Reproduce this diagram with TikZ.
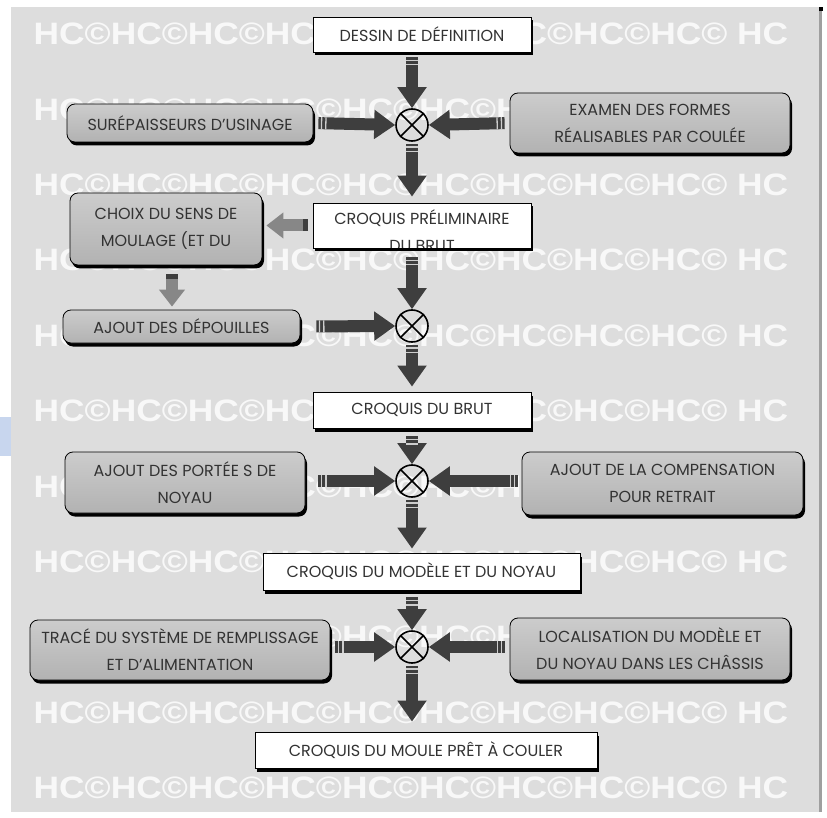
\documentclass[tikz,border=0pt]{standalone}
\usepackage{fontspec}
\setmainfont{Poppins}
\newfontfamily\wmfont{Liberation Sans}
\usetikzlibrary{arrows.meta,shadows}

\definecolor{panelgray}{RGB}{221,221,221}
\definecolor{wmwhite}{RGB}{248,248,248}
\definecolor{boxtop}{RGB}{204,204,204}
\definecolor{boxbot}{RGB}{178,178,178}
\definecolor{arrowdark}{RGB}{62,62,62}
\definecolor{arrowgray}{RGB}{135,135,135}
\definecolor{stripe}{RGB}{205,205,205}
\definecolor{edgeblue}{RGB}{200,214,238}

\tikzset{
  sketch/.style={draw=black, fill=white, line width=0.8pt, inner sep=0pt,
    text=black!80, font=\fontsize{16}{27}\selectfont, align=center,
    drop shadow={shadow xshift=2pt, shadow yshift=-3.5pt, fill=black, opacity=1}},
  stepbox/.style={draw=black, line width=0.8pt, rounded corners=8pt, inner sep=0pt,
    top color=boxtop, bottom color=boxbot,
    text=black!80, font=\fontsize{16}{27}\selectfont, align=center,
    drop shadow={shadow xshift=2pt, shadow yshift=-3.5pt, fill=black, opacity=1}},
  joint/.style={circle, draw=black, line width=1.6pt, minimum size=32pt, inner sep=0pt},
  flow/.style={arrowdark, line width=12pt, -{Triangle[length=21pt,width=28pt]},
    postaction={draw=stripe, arrows=-, line width=12pt,
      dash pattern=on 0pt off 2.5pt on 1.3pt off 3pt on 1.3pt off 2000pt}},
  sideflow/.style={arrowgray, line width=12pt, -{Triangle[length=17pt,width=25pt]},
    postaction={draw=arrowdark, arrows=-, line width=12pt,
      dash pattern=on 5pt off 2000pt}},
  wmtext/.style={text=wmwhite, inner sep=0pt, font=\wmfont\bfseries\fontsize{31}{31}\selectfont}
}

\begin{document}
\begin{tikzpicture}[x=1pt,y=-1pt]
\useasboundingbox (0,0) rectangle (827,818);

% panel and watermark
\fill[panelgray] (11,7) rectangle (819,812);
\fill[gray!75] (819,7) rectangle (822,812);
\fill[black] (819,7) rectangle (823,11);
\fill[edgeblue] (0,417) rectangle (11,456);
\foreach \i in {0,...,10}
  \node[wmtext] (wm\i) at (411,{34+75.4*\i}) {\scalebox{1.14}[1]{HC©HC©HC©HC©HC©HC©HC©HC©HC© HC}};

% main column
\node[sketch, minimum width=218pt, minimum height=35pt] (def) at (422,34.5) {DESSIN DE DÉFINITION};
\node[sketch, minimum width=218pt, minimum height=45pt] (cpre) at (422,225.5) {};
\begin{scope}
  \clip ([shift={(0.5pt,0.5pt)}]cpre.south west) rectangle ([shift={(-0.5pt,-0.5pt)}]cpre.north east);
  \node[text=black!80, font=\fontsize{16}{27}\selectfont, align=center] (cpretxt) at (422,231) {CROQUIS PRÉLIMINAIRE\\DU BRUT};
\end{scope}
\node[sketch, minimum width=218pt, minimum height=36pt] (cbrut) at (422,410) {CROQUIS DU BRUT};
\node[sketch, minimum width=317pt, minimum height=37pt] (cmod) at (421.5,571.5) {CROQUIS DU MODÈLE ET DU NOYAU};
\node[sketch, minimum width=342pt, minimum height=36pt] (cmoule) at (426,750) {CROQUIS DU MOULE PRÊT À COULER};

% side operations
\node[stepbox, minimum width=246pt, minimum height=38pt] (sur) at (190,123) {SURÉPAISSEURS D'USINAGE};
\node[stepbox, minimum width=280pt, minimum height=60pt] (exa) at (650,123) {EXAMEN DES FORMES\\RÉALISABLES PAR COULÉE};
\node[stepbox, minimum width=192pt, minimum height=72pt] (choix) at (166,229) {CHOIX DU SENS DE\\MOULAGE (ET DU};
\node[stepbox, minimum width=237pt, minimum height=33pt] (dep) at (181.5,326.5) {AJOUT DES DÉPOUILLES};
\node[stepbox, minimum width=240pt, minimum height=61pt] (port) at (185,482.5) {AJOUT DES PORTÉE S DE\\NOYAU};
\node[stepbox, minimum width=281pt, minimum height=63pt] (comp) at (662.5,483.5) {AJOUT DE LA COMPENSATION\\POUR RETRAIT};
\node[stepbox, minimum width=300pt, minimum height=60pt] (trace) at (180,650) {TRACÉ DU SYSTÈME DE REMPLISSAGE\\ET D'ALIMENTATION};
\node[stepbox, minimum width=280pt, minimum height=62pt] (loc) at (650,649) {LOCALISATION DU MODÈLE ET\\DU NOYAU DANS LES CHÂSSIS};

% summing joints
\node[joint] (c1) at (412,125) {};
\node[joint] (c2) at (412,326) {};
\node[joint] (c3) at (412,481) {};
\node[joint] (c4) at (412,647) {};
\foreach \c in {c1,c2,c3,c4} {
  \draw[line width=1.6pt] (\c.north east) -- (\c.south west);
  \draw[line width=1.6pt] (\c.north west) -- (\c.south east);
}

% arrows
\draw[flow, shorten <=5pt] (def.south -| c1) -- (c1.north);
\draw[flow, shorten <=5pt] (sur.east) -- (c1.west);
\draw[flow, shorten <=5pt] (exa.west) -- (c1.east);
\draw[flow, shorten <=2pt, shorten >=6pt] (c1.south) -- (cpre.north -| c1);
\draw[sideflow, shorten <=5pt, shorten >=4pt] (cpre.west) -- (cpre.west -| choix.east);
\draw[sideflow, shorten <=9pt, shorten >=3pt] ([xshift=6pt]choix.south) -- ([xshift=6pt]choix.south |- dep.north);
\draw[flow, shorten <=9pt] (cpre.south -| c2) -- (c2.north);
\draw[flow, shorten <=16pt] (dep.east) -- (c2.west);
\draw[flow, shorten <=2pt, shorten >=5pt] (c2.south) -- (cbrut.north -| c2);
\draw[flow, shorten <=8pt] (cbrut.south -| c3) -- (c3.north);
\draw[flow, shorten <=13pt] (port.east |- c3) -- (c3.west);
\draw[flow, shorten <=4pt] (comp.west |- c3) -- (c3.east);
\draw[flow, shorten <=2pt, shorten >=4pt] (c3.south) -- (cmod.north -| c3);
\draw[flow, shorten <=7pt] (cmod.south -| c4) -- (c4.north);
\draw[flow, shorten <=5pt] (trace.east |- c4) -- (c4.west);
\draw[flow, shorten <=5pt] (loc.west |- c4) -- (c4.east);
\draw[flow, shorten <=2pt, shorten >=10pt] (c4.south) -- (cmoule.north -| c4);
\end{tikzpicture}
\end{document}
